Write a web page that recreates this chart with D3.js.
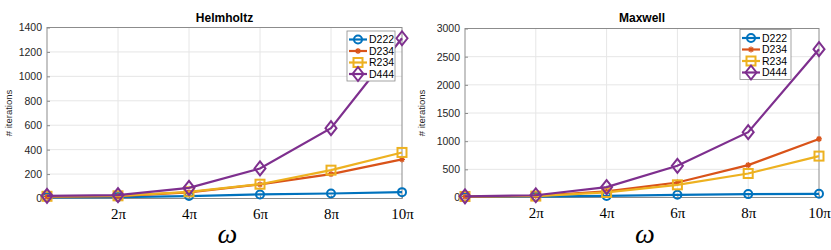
<!DOCTYPE html>
<html>
<head>
<meta charset="utf-8">
<script src="https://cdn.jsdelivr.net/npm/d3@7"></script>
<style>
  body { margin: 0; background: #fff; }
  svg { font-family: "Liberation Sans", Arial, sans-serif; }
</style>
</head>
<body>
<div id="chart"></div>
<script>
// omega / pi values, tick labels
const omega = [0, 2, 4, 6, 8, 10];
const xTickLabels = ["2π", "4π", "6π", "8π", "10π"];
const seriesNames = ["D222", "D234", "R234", "D444"];

// Helmholtz iterations
const helmD222 = [10, 12, 20, 33, 41, 52];
const helmD234 = [15, 20, 50, 115, 200, 320];
const helmR234 = [18, 22, 55, 117, 232, 377];
const helmD444 = [22, 28, 87, 246, 576, 1312];
const helmTicks = [0, 200, 400, 600, 800, 1000, 1200, 1400];

// Maxwell iterations
const maxD222 = [10, 15, 28, 48, 60, 66];
const maxD234 = [15, 30, 110, 266, 575, 1040];
const maxR234 = [18, 25, 90, 225, 426, 735];
const maxD444 = [20, 40, 185, 563, 1160, 2632];
const maxTicks = [0, 500, 1000, 1500, 2000, 2500, 3000];

const colors = ["#0072BD", "#D95319", "#EDB120", "#7E2F8E"];
const markers = ["circle", "star", "square", "diamond"];

const svg = d3.select("#chart").append("svg")
  .attr("width", 831)
  .attr("height", 250);

// MATLAB style hollow markers
function drawMarker(g, type, cx, cy, color) {
  if (type === "circle") {
    g.append("circle").attr("cx", cx).attr("cy", cy).attr("r", 4)
      .attr("fill", "none").attr("stroke", color).attr("stroke-width", 2);
  } else if (type === "square") {
    g.append("rect").attr("x", cx - 4.5).attr("y", cy - 4.5)
      .attr("width", 9).attr("height", 9)
      .attr("fill", "none").attr("stroke", color).attr("stroke-width", 2);
  } else if (type === "diamond") {
    g.append("path")
      .attr("d", `M${cx},${cy - 7}L${cx + 5.5},${cy}L${cx},${cy + 7}L${cx - 5.5},${cy}Z`)
      .attr("fill", "none").attr("stroke", color).attr("stroke-width", 2);
  } else {
    const s = 3;
    g.append("path")
      .attr("d", `M${cx - s},${cy}L${cx + s},${cy}M${cx},${cy - s}L${cx},${cy + s}` +
        `M${cx - s * 0.7},${cy - s * 0.7}L${cx + s * 0.7},${cy + s * 0.7}` +
        `M${cx - s * 0.7},${cy + s * 0.7}L${cx + s * 0.7},${cy - s * 0.7}`)
      .attr("stroke", color).attr("stroke-width", 1.3);
  }
}

function drawPanel(opt) {
  const x = d3.scaleLinear().domain([0, 10]).range([opt.left, opt.right]);
  const y = d3.scaleLinear().domain([0, opt.ymax]).range([opt.bottom, opt.top]);
  const g = svg.append("g");

  // grid
  g.selectAll(".gx").data([2, 4, 6, 8]).join("line")
    .attr("x1", d => x(d)).attr("x2", d => x(d))
    .attr("y1", opt.top).attr("y2", opt.bottom)
    .attr("stroke", "#e6e6e6").attr("stroke-width", 1);
  g.selectAll(".gy").data(opt.ticks.slice(1, -1)).join("line")
    .attr("x1", opt.left).attr("x2", opt.right)
    .attr("y1", d => y(d)).attr("y2", d => y(d))
    .attr("stroke", "#e6e6e6").attr("stroke-width", 1);

  // box
  g.append("rect")
    .attr("x", opt.left).attr("y", opt.top)
    .attr("width", opt.right - opt.left).attr("height", opt.bottom - opt.top)
    .attr("fill", "none").attr("stroke", "#8c8c8c").attr("stroke-width", 1);

  // y axis
  const yAxis = g.append("g")
    .attr("transform", `translate(${opt.left},0)`)
    .call(d3.axisLeft(y).tickValues(opt.ticks).tickFormat(d3.format("d"))
      .tickSize(-3).tickPadding(5));
  yAxis.select(".domain").remove();
  yAxis.selectAll("line").attr("stroke", "#8c8c8c");
  yAxis.selectAll("text").attr("fill", "#262626")
    .style("font-size", "10.5px").style("font-family", "Liberation Sans, Arial, sans-serif");

  // x axis
  const xAxis = g.append("g")
    .attr("transform", `translate(0,${opt.bottom})`)
    .call(d3.axisBottom(x).tickValues([2, 4, 6, 8, 10])
      .tickFormat((d, i) => xTickLabels[i]).tickSize(-3).tickPadding(10));
  xAxis.select(".domain").remove();
  xAxis.selectAll("line").attr("stroke", "#8c8c8c");
  xAxis.selectAll("text").attr("fill", "#000")
    .style("font-size", "15px").style("font-family", "Liberation Serif, serif");

  // title
  g.append("text")
    .attr("x", (opt.left + opt.right) / 2).attr("y", 22)
    .attr("text-anchor", "middle")
    .style("font-size", "12px").style("font-weight", "bold")
    .text(opt.title);

  // y label
  g.append("text")
    .attr("transform", `translate(${opt.ylabelX},${(opt.top + opt.bottom) / 2}) rotate(-90)`)
    .attr("text-anchor", "middle")
    .attr("fill", "#262626")
    .style("font-size", "9.5px")
    .text("# iterations");

  // x label
  g.append("text")
    .attr("x", (opt.left + opt.right) / 2 + 3).attr("y", 243)
    .attr("text-anchor", "middle")
    .style("font-size", "28px").style("font-style", "italic")
    .style("font-family", "Liberation Serif, serif")
    .text("ω");

  // series
  const line = d3.line().x((d, i) => x(omega[i])).y(d => y(d));
  opt.series.forEach((vals, k) => {
    g.append("path").datum(vals)
      .attr("d", line)
      .attr("fill", "none")
      .attr("stroke", colors[k])
      .attr("stroke-width", 2.2);
    vals.forEach((v, i) => drawMarker(g, markers[k], x(omega[i]), y(v), colors[k]));
  });

  // legend
  const lg = g.append("g");
  lg.append("rect")
    .attr("x", opt.legX).attr("y", opt.legY)
    .attr("width", opt.legW).attr("height", 50)
    .attr("fill", "#fff").attr("stroke", "#8c8c8c").attr("stroke-width", 0.8);
  seriesNames.forEach((name, k) => {
    const cy = opt.legY + 8.5 + k * 11.5;
    const x0 = opt.legX + 2, x1 = opt.legX + 20;
    lg.append("line")
      .attr("x1", x0).attr("x2", x1).attr("y1", cy).attr("y2", cy)
      .attr("stroke", colors[k]).attr("stroke-width", 2.2);
    drawMarker(lg, markers[k], (x0 + x1) / 2, cy, colors[k]);
    lg.append("text")
      .attr("x", x1 + 2).attr("y", cy).attr("dy", "0.35em")
      .attr("fill", "#000")
      .style("font-size", "10.5px")
      .text(name);
  });
}

drawPanel({
  title: "Helmholtz", left: 47, right: 402, top: 27.5, bottom: 198.5,
  ymax: 1400, ticks: helmTicks, ylabelX: 12,
  series: [helmD222, helmD234, helmR234, helmD444],
  legX: 347, legY: 31, legW: 48
});

drawPanel({
  title: "Maxwell", left: 465, right: 819, top: 28.5, bottom: 197.5,
  ymax: 3000, ticks: maxTicks, ylabelX: 425,
  series: [maxD222, maxD234, maxR234, maxD444],
  legX: 740, legY: 29.5, legW: 51
});
</script>
</body>
</html>
